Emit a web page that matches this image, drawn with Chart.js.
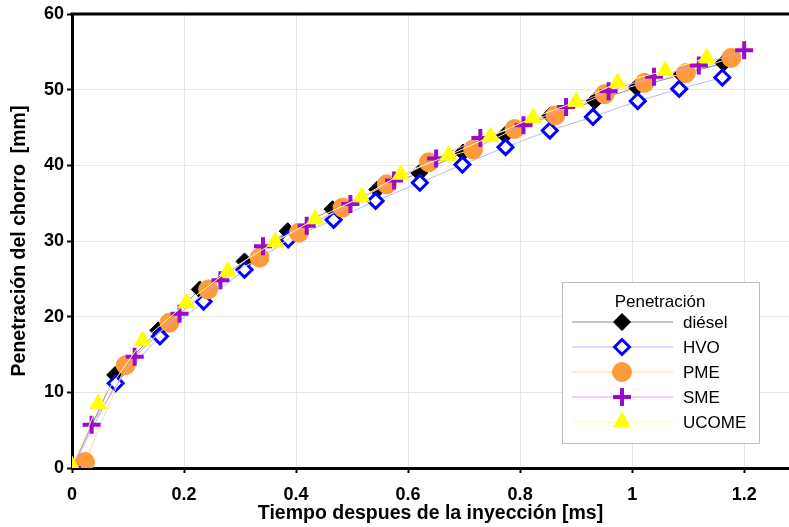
<!DOCTYPE html>
<html>
<head>
<meta charset="utf-8">
<script src="https://cdn.jsdelivr.net/npm/chart.js@4.4.0/dist/chart.umd.min.js"></script>
<style>
  html, body { margin: 0; padding: 0; background: #fff; }
  #wrap { width: 789px; height: 527px; position: relative; }
</style>
</head>
<body>
<div id="wrap"><canvas id="penetracion"></canvas></div>
<script>
var dieselX = [0, 0.077, 0.154, 0.228, 0.308, 0.385, 0.465, 0.545, 0.62, 0.698, 0.773, 0.854, 0.933, 1.008, 1.088, 1.163];
var dieselY = [0, 12.3, 18.2, 23.6, 27.3, 31.3, 34.2, 36.8, 39.0, 41.7, 44.0, 46.6, 48.5, 50.3, 52.0, 53.5];

var hvoX = [0, 0.078, 0.157, 0.235, 0.308, 0.386, 0.467, 0.542, 0.621, 0.697, 0.774, 0.853, 0.93, 1.01, 1.084, 1.161];
var hvoY = [0, 11.2, 17.4, 22.0, 26.2, 30.2, 32.8, 35.3, 37.7, 40.1, 42.4, 44.6, 46.4, 48.5, 50.1, 51.6];

var pmeX = [0.023, 0.096, 0.174, 0.243, 0.335, 0.405, 0.483, 0.562, 0.637, 0.716, 0.79, 0.863, 0.951, 1.022, 1.096, 1.177];
var pmeY = [0.8, 13.6, 19.2, 23.6, 27.8, 31.1, 34.4, 37.5, 40.4, 42.1, 44.8, 46.6, 49.4, 50.9, 52.2, 54.2];

var smeX = [0, 0.035, 0.112, 0.192, 0.265, 0.341, 0.419, 0.497, 0.575, 0.65, 0.729, 0.806, 0.882, 0.958, 1.039, 1.119, 1.2];
var smeY = [0, 5.7, 14.7, 20.4, 24.8, 29.3, 32.0, 34.9, 38.0, 40.9, 43.6, 45.3, 47.7, 49.8, 51.7, 53.2, 55.2];

var ucomeX = [0, 0.047, 0.126, 0.204, 0.278, 0.363, 0.434, 0.517, 0.587, 0.672, 0.747, 0.823, 0.9, 0.974, 1.059, 1.133];
var ucomeY = [0.3, 8.5, 16.8, 21.8, 26.0, 29.9, 32.9, 35.8, 38.8, 41.3, 43.8, 46.3, 48.4, 50.9, 52.5, 54.2];

function pts(xs, ys) {
  return xs.map(function (x, i) { return { x: x, y: ys[i] }; });
}

var FONT = "'Liberation Sans', Arial, sans-serif";

// top frame line + legend box (line, marker and label per dataset)
var legendBox = {
  id: 'legendBox',
  afterDraw: function (chart) {
    var ctx = chart.ctx;
    var ca = chart.chartArea;
    ctx.save();
    ctx.strokeStyle = '#000';
    ctx.lineWidth = 3;
    ctx.beginPath();
    ctx.moveTo(ca.left - 1.5, ca.top);
    ctx.lineTo(ca.right, ca.top);
    ctx.stroke();

    var x0 = 562, y0 = 282, w = 197, h = 161;
    ctx.fillStyle = '#fff';
    ctx.fillRect(x0, y0, w, h);
    ctx.strokeStyle = '#bdbdbd';
    ctx.lineWidth = 1;
    ctx.strokeRect(x0 + 0.5, y0 + 0.5, w, h);

    ctx.fillStyle = '#000';
    ctx.font = '17px ' + FONT;
    ctx.textAlign = 'center';
    ctx.textBaseline = 'middle';
    ctx.fillText('Penetración', 660, 302);

    ctx.textAlign = 'left';
    chart.data.datasets.forEach(function (ds, i) {
      var y = 322 + i * 25;
      ctx.strokeStyle = ds.borderColor;
      ctx.lineWidth = 1;
      ctx.beginPath();
      ctx.moveTo(572, y);
      ctx.lineTo(673, y);
      ctx.stroke();

      ctx.save();
      ctx.fillStyle = ds.pointBackgroundColor;
      ctx.strokeStyle = ds.pointBorderColor;
      ctx.lineWidth = ds.pointBorderWidth;
      Chart.helpers.drawPoint(ctx, {
        pointStyle: ds.pointStyle,
        radius: ds.pointRadius,
        borderWidth: ds.pointBorderWidth,
        rotation: 0
      }, 622, y);
      ctx.restore();

      ctx.fillStyle = '#000';
      ctx.font = '17px ' + FONT;
      ctx.fillText(ds.label, 683, y + 1);
    });
    ctx.restore();
  }
};

new Chart(document.getElementById('penetracion'), {
  type: 'scatter',
  data: {
    datasets: [
      {
        label: 'diésel',
        data: pts(dieselX, dieselY),
        showLine: true,
        borderColor: '#8c8c8c',
        borderWidth: 1,
        pointStyle: 'rectRot',
        pointRadius: 8.5,
        pointBackgroundColor: '#000',
        pointBorderColor: '#000',
        pointBorderWidth: 1,
        order: 5
      },
      {
        label: 'HVO',
        data: pts(hvoX, hvoY),
        showLine: true,
        borderColor: '#b3b9ff',
        borderWidth: 1,
        pointStyle: 'rectRot',
        pointRadius: 7.5,
        pointBackgroundColor: '#fff',
        pointBorderColor: '#0000ff',
        pointBorderWidth: 3,
        order: 4
      },
      {
        label: 'PME',
        data: pts(pmeX, pmeY),
        showLine: true,
        borderColor: '#ffd3b0',
        borderWidth: 1,
        pointStyle: 'circle',
        pointRadius: 9.5,
        pointBackgroundColor: '#ff9a3c',
        pointBorderColor: '#ff9a3c',
        pointBorderWidth: 1,
        order: 3
      },
      {
        label: 'SME',
        data: pts(smeX, smeY),
        showLine: true,
        borderColor: '#d9a3e8',
        borderWidth: 1,
        pointStyle: 'cross',
        pointRadius: 9,
        pointBackgroundColor: '#9a0cc8',
        pointBorderColor: '#9a0cc8',
        pointBorderWidth: 4,
        order: 2
      },
      {
        label: 'UCOME',
        data: pts(ucomeX, ucomeY),
        showLine: true,
        borderColor: '#ffff9a',
        borderWidth: 1,
        pointStyle: 'triangle',
        pointRadius: 9.5,
        pointBackgroundColor: '#ffff00',
        pointBorderColor: '#ffff00',
        pointBorderWidth: 1,
        order: 1
      }
    ]
  },
  options: {
    responsive: true,
    maintainAspectRatio: false,
    animation: false,
    layout: { autoPadding: false, padding: { left: 0, right: 0, top: 14, bottom: 0 } },
    plugins: {
      legend: { display: false },
      tooltip: { enabled: false }
    },
    scales: {
      x: {
        type: 'linear',
        min: 0,
        max: 1.28,
        ticks: {
          stepSize: 0.2,
          includeBounds: false,
          padding: 11,
          color: '#000',
          font: { family: FONT, size: 18, weight: 'bold' },
          callback: function (v) { return Math.round(v * 10) / 10; }
        },
        grid: { color: '#e6e6e6', lineWidth: 1, tickColor: '#000', tickLength: 5, tickWidth: 2 },
        border: { color: '#000', width: 3 },
        title: {
          display: true,
          text: 'Tiempo despues de la inyección [ms]',
          color: '#000',
          font: { family: FONT, size: 19.5, weight: 'bold' },
          padding: { top: 0, bottom: 2 }
        },
        afterFit: function (s) { s.height = 59; s.paddingLeft = 0; s.paddingRight = 0; }
      },
      y: {
        min: 0,
        max: 60,
        ticks: {
          stepSize: 10,
          padding: 3,
          color: '#000',
          font: { family: FONT, size: 18, weight: 'bold' }
        },
        grid: { color: '#e6e6e6', lineWidth: 1, tickColor: '#000', tickLength: 5, tickWidth: 2 },
        border: { color: '#000', width: 3 },
        title: {
          display: true,
          text: 'Penetración del chorro  [mm]',
          color: '#000',
          font: { family: FONT, size: 19.5, weight: 'bold' },
          padding: { top: 8, bottom: 0 }
        },
        afterFit: function (s) { s.width = 72; }
      }
    }
  },
  plugins: [legendBox]
});
</script>
</body>
</html>
